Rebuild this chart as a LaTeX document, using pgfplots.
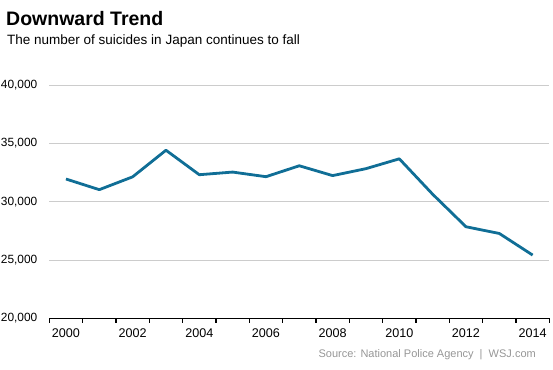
\documentclass[border=0pt]{standalone}
\usepackage{pgfplots}
\pgfplotsset{compat=1.18}
\usepackage{fontspec}
\setmainfont{Liberation Sans}
\definecolor{wsjblue}{RGB}{16,110,150}
\definecolor{gridgray}{RGB}{204,204,204}
\definecolor{srcgray}{RGB}{150,150,150}
\begin{document}
\begin{tikzpicture}[x=1pt,y=1pt]
\useasboundingbox (0,0) rectangle (553,-369);
\node[anchor=base west,inner sep=0pt,font=\fontsize{19.5}{22}\selectfont\bfseries] at (6,-26) {Downward Trend};
\node[anchor=base west,inner sep=0pt,font=\fontsize{13.5}{16}\selectfont] at (7,-44.7) {The number of suicides in Japan continues to fall};
\node[anchor=base east,inner sep=0pt,text=srcgray,font=\fontsize{11}{13}\selectfont] at (536,-357) {Source: National Police Agency\ \ |\ \ WSJ.com};
\begin{axis}[
  at={(49.3pt,-318.3pt)}, anchor=south west,
  width=500pt, height=233pt, scale only axis,
  xmin=-0.5, xmax=14.5, ymin=20000, ymax=40000,
  axis x line*=bottom, axis y line*=left,
  y axis line style={draw=none},
  x axis line style={black,line width=1.6pt},
  xtick={0,2,...,14},
  xticklabels={2000,2002,2004,2006,2008,2010,2012,2014},
  minor xtick={-0.5,0.5,...,14.5},
  tick align=outside,
  major tick length=0pt,
  minor tick length=4.5pt,
  minor tick style={black,line width=1.3pt},
  ytick={20000,25000,...,40000},
  ytick style={draw=none},
  ymajorgrids,
  grid style={gridgray,line width=0.9pt},
  /pgf/number format/assume math mode=true,
  /pgf/number format/1000 sep={,},
  scaled y ticks=false,
  xticklabel style={font=\fontsize{12.6}{14}\selectfont,anchor=north,inner sep=0pt,yshift=-10pt},
  yticklabel style={font=\fontsize{11.9}{14}\selectfont,anchor=east,inner sep=0pt,xshift=-11.8pt},
  clip=false,
]
\addplot[wsjblue,line width=2.8pt,line join=round] coordinates {
(0,31957) (1,31042) (2,32143) (3,34427) (4,32325) (5,32552) (6,32155) (7,33093)
(8,32249) (9,32845) (10,33690) (11,30651) (12,27858) (13,27283) (14,25427)
};
\end{axis}
\end{tikzpicture}
\end{document}
